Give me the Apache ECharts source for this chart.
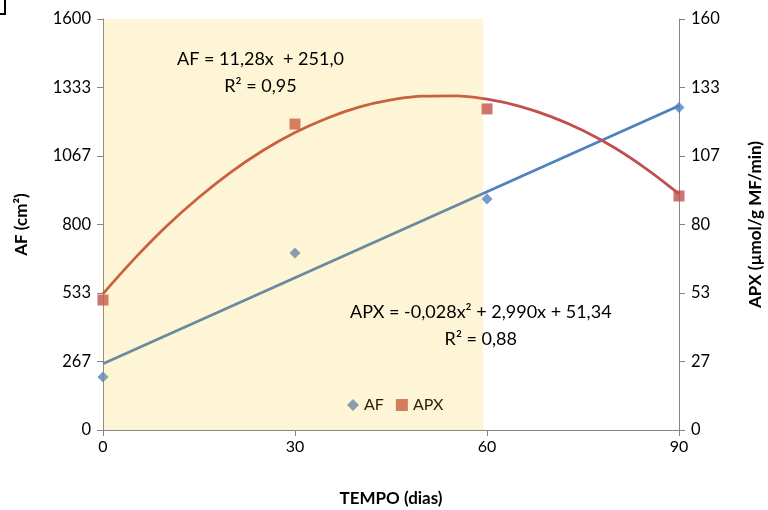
<!DOCTYPE html>
<html>
<head>
<meta charset="utf-8">
<script src="https://cdn.jsdelivr.net/npm/echarts@6/dist/echarts.min.js"></script>
<style>html,body{margin:0;padding:0;background:#fff}#c{width:768px;height:510px}</style>
</head>
<body>
<div id="c"></div>
<script>
// Observed points
const afX = [0, 30, 60, 90];
const afValues = [206, 689, 899, 1255];
const apxX = [0, 30, 60, 90];
const apxValues = [50.6, 119.1, 125.0, 91.1];
// Trend lines
const afTrendX = [0, 90];
const afTrendValues = [258, 1262];
const apxTrendX = [0, 5, 10, 15, 20, 25, 30, 35, 40, 45, 50, 55, 60, 65, 70, 75, 80, 85, 90];
const apxTrendValues = [53.0, 66.9, 79.5, 90.6, 100.4, 108.8, 115.8, 121.4, 125.7, 128.5, 130.0, 130.1, 128.8, 126.1, 122.0, 116.6, 109.8, 101.5, 91.9];
// Shaded period
const shadedRange = [0, 59.4];
// Ticks
const xTicks = [0, 30, 60, 90];
const leftTickLabels = ['0', '267', '533', '800', '1067', '1333', '1600'];
const rightTickLabels = ['0', '27', '53', '80', '107', '133', '160'];
const eqAF = ['AF = 11,28x  + 251,0', 'R² = 0,95'];
const eqAPX = ['APX = -0,028x² + 2,990x + 51,34', 'R² = 0,88'];

const FONT = 'Lato';
const BLUE = '#4F81BD', RED = '#C0504D', AXIS = '#868686';

const pair = (xs, ys) => xs.map((x, i) => [x, ys[i]]);

const chart = echarts.init(document.getElementById('c'));
chart.setOption({
  animation: false,
  backgroundColor: '#fff',
  textStyle: { fontFamily: FONT },
  grid: { left: 103, right: 89, top: 19, bottom: 80, containLabel: false, outerBoundsMode: 'none' },
  xAxis: {
    type: 'value', min: 0, max: 90, interval: 30,
    name: 'TEMPO (dias)', nameLocation: 'middle', nameGap: 60,
    nameTextStyle: { fontFamily: FONT, fontWeight: 'bold', fontSize: 17, color: '#000' },
    axisLine: { lineStyle: { color: AXIS, width: 1 } },
    axisTick: { show: true, inside: false, length: 6, lineStyle: { color: AXIS } },
    axisLabel: { fontSize: 16, color: '#000', margin: 9,
      formatter: v => { const i = xTicks.indexOf(v); return i >= 0 ? String(xTicks[i]) : ''; } },
    splitLine: { show: false }
  },
  yAxis: [
    {
      type: 'value', min: 0, max: 1600, interval: 1600 / 6,
      name: 'AF (cm²)', nameLocation: 'middle', nameGap: 73, nameRotate: 90,
      nameTextStyle: { fontFamily: FONT, fontWeight: 'bold', fontSize: 17, color: '#000' },
      axisLine: { show: true, lineStyle: { color: AXIS } },
      axisTick: { show: true, length: 6, lineStyle: { color: AXIS } },
      axisLabel: { fontSize: 16.5, color: '#000', margin: 12,
        formatter: v => leftTickLabels[Math.round(v / (1600 / 6))] },
      splitLine: { show: false }
    },
    {
      type: 'value', min: 0, max: 160, interval: 160 / 6, position: 'right',
      name: 'APX (µmol/g MF/min)', nameLocation: 'middle', nameGap: 68, nameRotate: 90,
      nameTextStyle: { fontFamily: FONT, fontWeight: 'bold', fontSize: 17, color: '#000' },
      axisLine: { show: true, lineStyle: { color: AXIS } },
      axisTick: { show: true, length: 6, lineStyle: { color: AXIS } },
      axisLabel: { fontSize: 16.5, color: '#000', margin: 12,
        formatter: v => rightTickLabels[Math.round(v / (160 / 6))] },
      splitLine: { show: false }
    }
  ],
  legend: {
    left: 342, top: 392, itemGap: 12, itemWidth: 12, itemHeight: 12,
    textStyle: { fontFamily: FONT, fontSize: 16, color: '#000' },
    data: [ { name: 'AF', icon: 'diamond' }, { name: 'APX', icon: 'rect' } ]
  },
  series: [
    { name: 'AF trend', type: 'line', yAxisIndex: 0, data: pair(afTrendX, afTrendValues),
      showSymbol: false, symbol: 'none', lineStyle: { color: BLUE, width: 2.75 }, z: 2, silent: true },
    { name: 'APX trend', type: 'line', yAxisIndex: 1, data: pair(apxTrendX, apxTrendValues),
      smooth: 0.4, symbol: 'none', lineStyle: { color: RED, width: 2.75 }, z: 2, silent: true },
    { name: 'AF', type: 'scatter', yAxisIndex: 0, data: pair(afX, afValues),
      symbol: 'diamond', symbolSize: 11, itemStyle: { color: BLUE }, z: 3 },
    { name: 'APX', type: 'scatter', yAxisIndex: 1, data: pair(apxX, apxValues),
      symbol: 'rect', symbolSize: 11, itemStyle: { color: RED }, z: 3 },
    { name: 'shade', type: 'line', yAxisIndex: 0, data: [], z: 10, silent: true,
      markArea: { silent: true, z: 10, itemStyle: { color: 'rgba(250,185,0,0.16)' },
        data: [[ { xAxis: shadedRange[0] }, { xAxis: shadedRange[1] } ]] } }
  ],
  graphic: [
    { type: 'text', left: 177, top: 46, z: 20,
      style: { text: eqAF[0] + '\n' + eqAF[1], font: '18px ' + FONT, fill: '#000', lineHeight: 27, textAlign: 'center' } },
    { type: 'text', left: 350, top: 299, z: 20,
      style: { text: eqAPX[0] + '\n' + eqAPX[1], font: '18px ' + FONT, fill: '#000', lineHeight: 27, textAlign: 'center' } },
    { type: 'polyline', z: 20, shape: { points: [[0, 14], [5, 14], [5, 0]] }, style: { stroke: '#000', lineWidth: 2, fill: null } }
  ]
});
</script>
</body>
</html>
